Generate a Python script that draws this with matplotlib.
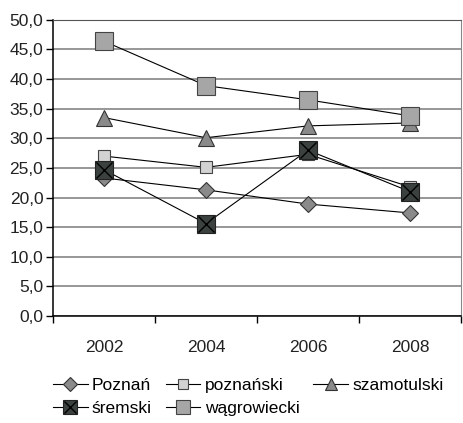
import matplotlib
matplotlib.use('Agg')
import matplotlib.pyplot as plt
from matplotlib.legend_handler import HandlerTuple

plt.rcParams['font.family'] = ['Liberation Sans', 'DejaVu Sans']

# -------------- dane --------------------------------------------------------
years = ['2002', '2004', '2006', '2008']
poznan = [23.3, 21.3, 18.9, 17.4]
poznanski = [27.0, 25.1, 27.3, 21.8]
szamotulski = [33.5, 30.1, 32.1, 32.6]
sremski = [24.7, 15.6, 28.0, 21.0]
wagrowiecki = [46.4, 38.9, 36.5, 33.8]
yticks = [0, 5, 10, 15, 20, 25, 30, 35, 40, 45, 50]
# ---------------------------------------------------------------------------

fig = plt.figure(figsize=(4.63, 4.23), dpi=100)
ax = fig.add_axes([0.1145, 0.253, 0.881, 0.70])

x = list(range(len(years)))
lw = 0.8

l1, = ax.plot(x, poznan, color='black', lw=lw, marker='D', ms=8.5,
              mfc='#8a8a8a', mec='#333333', mew=0.8, label='Poznań', zorder=3)
l2, = ax.plot(x, poznanski, color='black', lw=lw, marker='s', ms=9,
              mfc='#d2d2d2', mec='#444444', mew=0.8, label='poznański', zorder=3)
l3, = ax.plot(x, szamotulski, color='black', lw=lw, marker='^', ms=11,
              mfc='#8a8a8a', mec='#333333', mew=0.8, label='szamotulski', zorder=3)
l4, = ax.plot(x, sremski, color='black', lw=lw, marker='s', ms=13,
              mfc='#3a413f', mec='#222222', mew=0.8, label='śremski', zorder=4)
l4x, = ax.plot(x, sremski, ls='none', marker='x', ms=11, mec='black', mew=1.0, zorder=5)
l5, = ax.plot(x, wagrowiecki, color='black', lw=lw, marker='s', ms=13,
              mfc='#a6a6a6', mec='#444444', mew=0.8, label='wągrowiecki', zorder=3)

ax.set_xlim(-0.5, 3.5)
ax.set_ylim(0, 50)
ax.set_yticks(yticks)
ax.yaxis.set_major_formatter(plt.FuncFormatter(lambda v, p: ('%.1f' % v).replace('.', ',')))
ax.set_xticks(x)
ax.set_xticklabels(years)
ax.set_xticks([-0.5, 0.5, 1.5, 2.5, 3.5], minor=True)
ax.tick_params(axis='x', which='major', length=0, pad=17, labelsize=12.5, colors='#222222')
ax.tick_params(axis='x', which='minor', length=5, width=1, color='black')
ax.tick_params(axis='y', length=5, width=1, labelsize=12.5, pad=2, colors='#222222')
ax.tick_params(axis='y', color='black')

ax.grid(axis='y', color='#7a7a7a', lw=1.1)
ax.set_axisbelow(True)
ax.spines['left'].set_color('black')
ax.spines['bottom'].set_color('black')
ax.spines['left'].set_linewidth(1.1)
ax.spines['bottom'].set_linewidth(1.1)
ax.spines['top'].set_color('#555555')
ax.spines['right'].set_color('#888888')

handles = [l1, (l4, l4x), l2, l5, l3]
labels = ['Poznań', 'śremski', 'poznański', 'wągrowiecki', 'szamotulski']
fig.legend(handles, labels, ncol=3, loc='upper left', bbox_to_anchor=(0.114, 0.107),
           frameon=False, fontsize=12.5, handlelength=2.0, handletextpad=0.25,
           columnspacing=0.8, labelspacing=0.45, borderaxespad=0, borderpad=0,
           markerscale=0.8,
           handler_map={tuple: HandlerTuple(ndivide=1, pad=0)})

fig.savefig('out.png', dpi=100)
